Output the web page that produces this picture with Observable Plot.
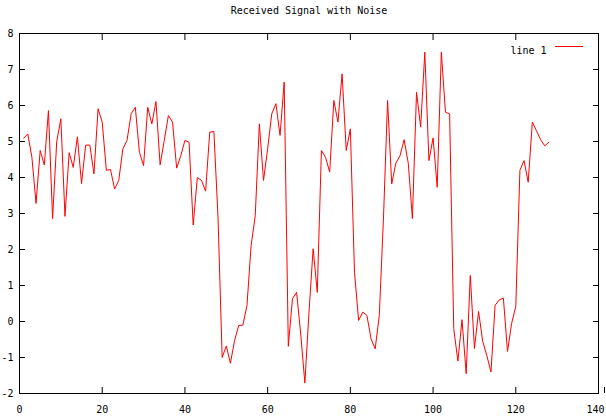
<!DOCTYPE html>
<html><head><meta charset="utf-8">
<script src="https://cdn.jsdelivr.net/npm/d3@7"></script>
<script src="https://cdn.jsdelivr.net/npm/@observablehq/plot@0.6"></script>
<style>html,body{margin:0;padding:0;background:#fff} svg{display:block}</style>
</head><body><div id="chart"></div>
<script>
const chartTitle = "Received Signal with Noise";
const seriesName = "line 1";
const signal = [
  5.09, 5.21, 4.56, 3.28, 4.75, 4.35, 5.86, 2.86, 5.0, 5.63,
  2.92, 4.69, 4.28, 5.13, 3.83, 4.9, 4.9, 4.1, 5.91, 5.54,
  4.2, 4.22, 3.68, 3.92, 4.8, 5.03, 5.77, 5.95, 4.7, 4.33,
  5.95, 5.49, 6.11, 4.35, 5.03, 5.72, 5.54, 4.26, 4.61, 5.03,
  4.98, 2.68, 4.0, 3.92, 3.62, 5.26, 5.28, 2.9, -1.0, -0.68,
  -1.16, -0.53, -0.11, -0.1, 0.44, 2.11, 2.94, 5.49, 3.92, 4.8,
  5.77, 6.05, 5.17, 6.65, -0.69, 0.63, 0.81, -0.35, -1.71, 0.26,
  2.02, 0.81, 4.75, 4.56, 4.15, 6.14, 5.54, 6.88, 4.75, 5.35,
  1.37, 0.03, 0.26, 0.17, -0.48, -0.76, 0.17, 2.85, 6.14, 3.82,
  4.4, 4.6, 5.05, 4.4, 2.86, 6.37, 5.4, 7.48, 4.47, 5.1,
  3.73, 7.48, 5.81, 5.77, -0.2, -1.1, 0.05, -1.45, 1.28, -0.75,
  0.28, -0.55, -0.95, -1.4, 0.45, 0.6, 0.65, -0.83, -0.05, 0.42,
  4.2, 4.47, 3.87, 5.54, 5.3, 5.05, 4.88, 4.98
];
const xTicks = [0, 20, 40, 60, 80, 100, 120, 140];
const yTicks = [-2, -1, 0, 1, 2, 3, 4, 5, 6, 7, 8];

const data = signal.map((v, i) => ({x: i + 1, y: v}));
const lineColor = "#f00";
const W = 606, H = 417, mT = 33, mB = 24, mL = 19, mR = 8;
const lastTick = xTicks[xTicks.length - 1];
const innerTicks = xTicks.slice(0, -1);

const chart = Plot.plot({
  width: W, height: H,
  marginTop: mT, marginBottom: mB, marginLeft: mL, marginRight: mR,
  style: {fontFamily: "'DejaVu Sans Mono', monospace", fontSize: "10px", background: "#fff", color: "#000"},
  x: {domain: [0, 140]},
  y: {domain: [-2, 8]},
  marks: [
    Plot.frame({stroke: "#000"}),
    Plot.axisX(innerTicks, {anchor: "bottom", tickSize: -6, tickPadding: 18, label: null, tickFormat: d => String(d)}),
    Plot.axisX([lastTick], {anchor: "bottom", tickSize: -6, tickPadding: 18, label: null, tickFormat: d => String(d), textAnchor: "end", dx: 6}),
    Plot.axisX(xTicks, {anchor: "top", tickSize: -6, label: null, tickFormat: () => ""}),
    Plot.axisY(yTicks, {anchor: "left", tickSize: -6, tickPadding: 12, label: null, tickFormat: d => String(d)}),
    Plot.axisY(yTicks, {anchor: "right", tickSize: -6, label: null, tickFormat: () => ""}),
    Plot.line(data, {x: "x", y: "y", stroke: lineColor, strokeWidth: 1}),
    Plot.text([chartTitle], {frameAnchor: "top", dy: -27}),
    Plot.text([seriesName], {frameAnchor: "top-right", textAnchor: "end", dx: -52, dy: 13})
  ]
});
const svg = d3.select(chart);
svg.append("line")
  .attr("x1", W - mR - 43).attr("x2", W - mR - 15)
  .attr("y1", mT + 13.5).attr("y2", mT + 13.5)
  .attr("stroke", lineColor).attr("stroke-width", 1);
document.getElementById("chart").appendChild(chart);
</script>
</body></html>
